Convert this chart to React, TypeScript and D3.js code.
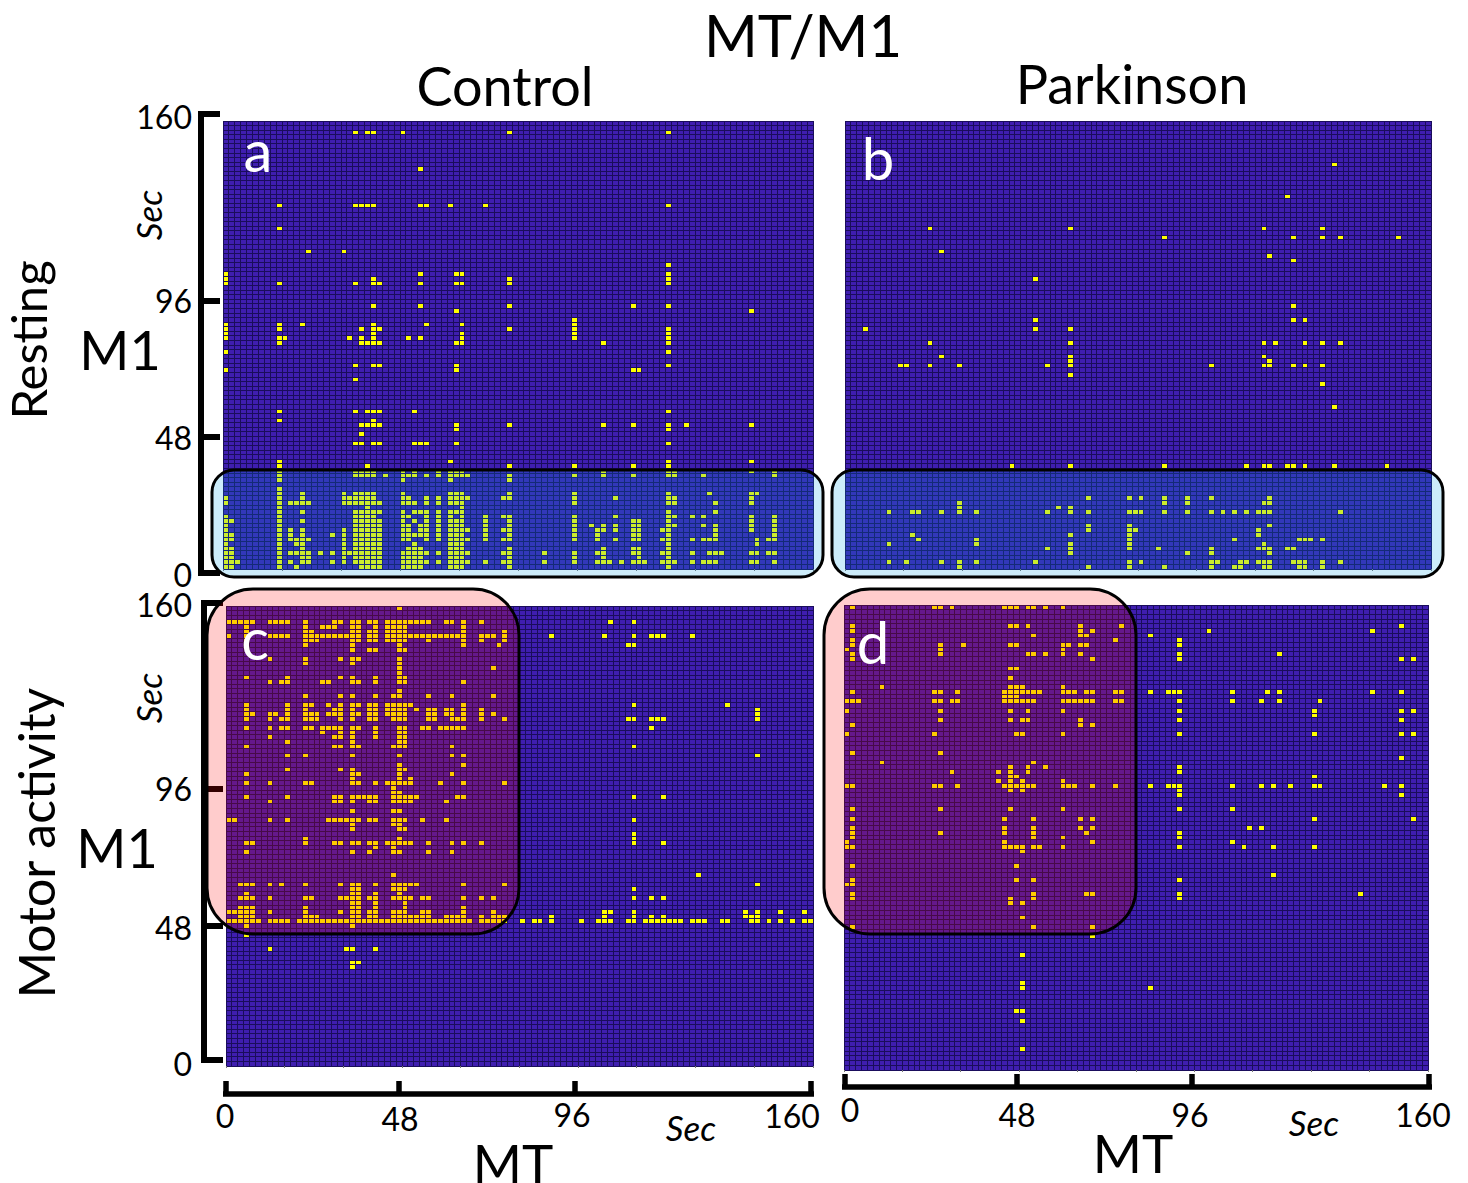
import * as d3 from 'd3';

// Each entry: [time bin from the top, [active time bins from the left]]
type CellRow = [number, number[]];

const tickValues = [0, 48, 96, 160];

const controlResting: CellRow[] = [
    [2, [22, 24, 25, 30, 48, 75]],
    [10, [33]],
    [18, [9, 22, 23, 24, 25, 33, 34, 38, 44, 75]],
    [23, [9]],
    [28, [14, 20]],
    [31, [75]],
    [33, [0, 33, 39, 40, 75]],
    [34, [0, 25, 48, 75]],
    [35, [0, 9, 22, 25, 26, 33, 39, 40, 48, 75]],
    [40, [25, 33, 48, 69, 75]],
    [41, [39, 89]],
    [43, [59]],
    [44, [0, 9, 13, 25, 34, 40, 59]],
    [45, [0, 9, 23, 25, 26, 48, 59, 75]],
    [46, [0, 25, 40, 59, 75]],
    [47, [0, 9, 10, 21, 23, 25, 31, 33, 40, 59, 75]],
    [48, [9, 23, 24, 25, 26, 39, 40, 64, 75]],
    [50, [0, 75]],
    [53, [22, 25, 26, 39, 75]],
    [54, [0, 39, 69, 70]],
    [56, [22]],
    [63, [9, 22, 24, 25, 26, 32, 75]],
    [65, [9, 25]],
    [66, [23, 24, 25, 26, 39, 48, 64, 69, 75, 78, 89]],
    [67, [39, 75]],
    [68, [23]],
    [70, [22, 23, 25, 26, 32, 33, 34, 39, 75]],
    [74, [9, 38, 75, 89]],
    [75, [9, 24, 48, 59, 69, 75]],
    [76, [9, 22, 23, 24, 25, 30, 32, 36, 38, 39, 40, 64, 75, 76, 89, 93]],
    [77, [9, 22, 23, 24, 25, 27, 30, 31, 32, 34, 36, 38, 39, 40, 41, 48, 59, 64, 69, 75, 76, 81, 93]],
    [78, [9, 30, 38, 48]],
    [80, [9]],
    [81, [9, 13, 20, 22, 23, 24, 25, 30, 38, 39, 40, 48, 59, 75, 82, 89, 90]],
    [82, [0, 9, 13, 20, 21, 22, 23, 24, 25, 30, 31, 34, 36, 38, 39, 40, 41, 47, 48, 59, 66, 75, 76, 89]],
    [83, [0, 9, 11, 12, 13, 14, 20, 21, 22, 23, 24, 25, 26, 30, 31, 32, 34, 36, 38, 39, 40, 59, 75, 76, 83, 89]],
    [84, [9, 24, 40]],
    [85, [9, 13, 22, 23, 24, 25, 26, 30, 32, 33, 34, 36, 38, 39, 40, 75, 83]],
    [86, [0, 9, 22, 23, 24, 25, 30, 31, 34, 36, 38, 40, 44, 47, 48, 59, 66, 75, 76, 79, 81, 89, 93]],
    [87, [0, 1, 9, 13, 22, 23, 24, 25, 26, 30, 32, 34, 36, 38, 39, 40, 44, 48, 59, 69, 70, 75, 89, 93]],
    [88, [0, 9, 22, 23, 24, 25, 26, 30, 31, 33, 34, 36, 38, 39, 40, 44, 48, 59, 62, 64, 66, 69, 70, 75, 76, 81, 83, 89, 93]],
    [89, [0, 9, 11, 13, 20, 22, 23, 24, 25, 26, 30, 31, 33, 34, 36, 38, 39, 40, 41, 44, 47, 48, 59, 63, 64, 66, 69, 70, 74, 75, 83, 89, 93]],
    [90, [0, 1, 9, 11, 13, 18, 20, 22, 23, 24, 25, 26, 30, 31, 32, 33, 34, 36, 38, 39, 40, 44, 48, 59, 63, 69, 70, 75, 83, 93]],
    [91, [0, 1, 9, 11, 12, 13, 14, 20, 22, 23, 24, 25, 26, 30, 31, 34, 36, 38, 39, 40, 41, 44, 47, 48, 59, 63, 66, 69, 70, 74, 75, 79, 81, 82, 83, 90, 92, 93]],
    [92, [0, 9, 12, 13, 20, 22, 23, 24, 25, 26, 32, 38, 39, 40, 75, 90]],
    [93, [0, 1, 9, 13, 20, 22, 23, 24, 25, 26, 31, 32, 33, 38, 39, 40, 48, 64, 69, 70, 75]],
    [94, [0, 1, 9, 11, 12, 13, 14, 16, 18, 20, 21, 22, 23, 24, 25, 26, 30, 31, 32, 33, 34, 36, 38, 39, 40, 41, 47, 48, 54, 59, 63, 64, 69, 70, 74, 75, 79, 82, 83, 84, 89, 90, 92, 93]],
    [95, [0, 1, 9, 13, 14, 20, 22, 23, 24, 25, 26, 30, 31, 32, 33, 38, 39, 40, 48, 59, 64, 70, 75]],
    [96, [0, 1, 2, 9, 11, 13, 14, 18, 20, 22, 23, 24, 25, 26, 30, 31, 32, 33, 34, 36, 38, 39, 40, 41, 44, 47, 48, 54, 59, 63, 64, 65, 67, 69, 70, 71, 74, 75, 76, 79, 81, 82, 83, 89, 90, 93]],
    [97, [0, 1, 9, 12, 23, 24, 25, 26, 30, 31, 32, 33, 38, 39, 40, 48, 75]],
];

const parkinsonResting: CellRow[] = [
    [9, [83]],
    [16, [75]],
    [23, [14, 38, 71, 81]],
    [25, [54, 76, 81, 84, 94]],
    [28, [16]],
    [29, [72]],
    [30, [76]],
    [34, [32]],
    [40, [76]],
    [43, [32, 76, 78]],
    [45, [3, 32, 38]],
    [48, [14, 38, 71, 73, 78, 81, 84]],
    [51, [16, 38, 71]],
    [52, [38, 72]],
    [53, [9, 10, 14, 19, 34, 38, 62, 71, 72, 76, 78, 81]],
    [55, [38]],
    [57, [81]],
    [62, [83]],
    [75, [28, 38, 54, 68, 71, 72, 75, 76, 78, 83, 92]],
    [82, [41, 48, 50, 54, 58, 62, 72]],
    [83, [19, 54, 58, 71, 72]],
    [84, [19, 36, 38]],
    [85, [7, 11, 12, 16, 19, 22, 34, 38, 41, 48, 49, 50, 54, 58, 62, 64, 66, 68, 70, 71, 72, 84]],
    [88, [41, 48, 72]],
    [89, [41, 48, 49, 70]],
    [90, [11, 38, 48, 70]],
    [91, [12, 22, 48, 66, 77, 78, 79, 81]],
    [92, [7, 22, 38, 48, 71]],
    [93, [34, 38, 48, 53, 62, 70, 71, 72, 75, 76]],
    [94, [38, 58, 62, 72]],
    [96, [7, 10, 16, 19, 22, 32, 48, 50, 62, 63, 67, 68, 70, 71, 72, 76, 77, 78, 81, 84]],
    [97, [19, 41, 48, 54, 62, 66, 67, 71, 72, 77, 78, 81]],
];

const controlMotor: CellRow[] = [
    [0, [29]],
    [3, [0, 1, 2, 3, 4, 7, 8, 9, 10, 13, 18, 19, 21, 22, 24, 25, 27, 28, 29, 30, 31, 32, 33, 34, 37, 38, 40, 43, 65, 69]],
    [4, [3, 13, 16, 17, 18, 21, 22, 25, 27, 28, 29, 30, 40]],
    [5, [3, 13, 14, 21, 22, 24, 25, 27, 28, 29, 30, 40, 47]],
    [6, [0, 3, 7, 8, 9, 10, 13, 14, 15, 16, 17, 18, 19, 20, 21, 22, 24, 25, 27, 28, 29, 30, 31, 32, 33, 34, 35, 36, 37, 38, 39, 40, 43, 44, 45, 47, 55, 64, 69, 72, 73, 74, 79]],
    [7, [3, 13, 14, 15, 21, 22, 24, 25, 27, 28, 29, 30, 34, 40, 43, 47]],
    [8, [13, 21, 29, 40, 46, 68, 69]],
    [9, [21, 24, 25, 29, 30]],
    [11, [7, 13, 19, 21, 22, 29]],
    [12, [13, 21, 29]],
    [13, [29, 45]],
    [14, [29]],
    [15, [3, 10, 19, 21, 25, 29, 30]],
    [16, [7, 9, 10, 16, 17, 21, 22, 25, 29, 30, 40]],
    [18, [29]],
    [19, [13, 19, 21, 25, 28, 29, 34, 38, 45]],
    [21, [3, 10, 13, 14, 17, 19, 21, 22, 24, 25, 27, 28, 29, 30, 31, 40, 69, 85]],
    [22, [3, 10, 13, 18, 19, 21, 24, 25, 27, 28, 29, 30, 32, 34, 35, 37, 38, 40, 43, 90]],
    [23, [3, 4, 7, 8, 10, 13, 14, 15, 17, 18, 19, 21, 22, 24, 25, 27, 28, 29, 30, 34, 35, 37, 38, 40, 43, 45, 90]],
    [24, [3, 7, 9, 10, 13, 14, 15, 19, 21, 24, 25, 28, 29, 30, 34, 35, 38, 39, 40, 43, 47, 68, 69, 72, 73, 74, 90]],
    [26, [3, 7, 9, 10, 13, 14, 16, 17, 18, 19, 21, 22, 25, 29, 30, 33, 34, 36, 37, 38, 39, 40, 72]],
    [27, [16, 19, 21, 25, 29, 30]],
    [28, [7, 18, 19, 21, 25, 29, 30]],
    [29, [10, 21, 29, 30]],
    [30, [3, 18, 19, 21, 22, 28, 29, 30, 38, 69]],
    [32, [10, 13, 21, 29, 38, 40, 90]],
    [34, [29, 40]],
    [35, [10, 19, 21, 29, 30]],
    [36, [3, 21, 22, 29, 38]],
    [37, [21, 29, 31]],
    [38, [3, 7, 13, 14, 21, 22, 25, 27, 28, 29, 30, 31, 36, 40, 47]],
    [39, [28]],
    [40, [28, 29]],
    [41, [3, 10, 18, 19, 21, 22, 23, 24, 25, 28, 29, 30, 31, 32, 39, 40, 69, 74]],
    [42, [7, 18, 19, 21, 24, 25, 28, 29, 30, 31, 37]],
    [44, [21, 28, 29]],
    [46, [0, 1, 7, 10, 17, 18, 19, 20, 21, 22, 24, 25, 28, 29, 30, 33, 37, 69]],
    [47, [21, 28, 29]],
    [48, [21, 29, 30]],
    [49, [69]],
    [50, [13, 29, 69]],
    [51, [3, 4, 13, 18, 19, 21, 22, 24, 25, 27, 28, 29, 30, 31, 34, 38, 40, 43, 69, 74]],
    [52, [25, 28]],
    [53, [3, 21, 24, 28, 29, 34, 38]],
    [58, [28, 80]],
    [60, [2, 3, 4, 7, 9, 13, 19, 21, 22, 25, 28, 29, 30, 31, 32, 40, 47, 90]],
    [61, [21, 22, 28, 29, 30, 69]],
    [62, [3, 21, 22, 25, 29]],
    [63, [2, 3, 4, 7, 13, 14, 19, 20, 21, 22, 24, 25, 28, 29, 30, 31, 33, 34, 40, 43, 45, 69, 72, 74]],
    [64, [21, 22, 25, 30]],
    [65, [2, 3, 4, 13, 21, 22, 25, 30, 40]],
    [66, [0, 1, 2, 3, 4, 7, 13, 19, 21, 22, 24, 25, 28, 29, 30, 33, 34, 40, 45, 64, 65, 69, 88, 90, 94, 98]],
    [67, [2, 3, 4, 13, 14, 15, 21, 22, 24, 25, 28, 29, 30, 31, 32, 33, 34, 37, 38, 39, 40, 43, 45, 46, 47, 55, 64, 69, 72, 74, 88, 89, 90]],
    [68, [0, 1, 2, 3, 4, 5, 7, 8, 9, 10, 12, 13, 14, 15, 16, 17, 18, 19, 20, 21, 22, 23, 24, 25, 26, 27, 28, 29, 30, 31, 32, 33, 34, 35, 36, 37, 38, 39, 40, 41, 43, 44, 45, 46, 47, 50, 52, 53, 55, 60, 63, 64, 65, 68, 69, 71, 72, 73, 74, 75, 76, 77, 79, 80, 81, 84, 85, 89, 90, 92, 94, 96, 98, 99]],
    [69, [3, 21]],
    [71, [3]],
    [74, [7, 20, 21, 25]],
    [77, [21, 22]],
    [78, [21]],
];

const parkinsonMotor: CellRow[] = [
    [0, [1, 15, 16, 18, 27, 28, 29, 31, 32, 34, 37]],
    [4, [1, 28, 29, 31, 40, 47, 95]],
    [5, [1, 40, 42, 62, 90]],
    [6, [32, 40, 41, 52]],
    [7, [1, 46, 57]],
    [8, [1, 16, 20, 28, 29, 37, 38, 40, 41, 57]],
    [9, [0, 16, 37]],
    [10, [1, 16, 31, 32, 34, 37, 40, 57, 74]],
    [11, [1, 42, 57, 95, 97]],
    [13, [28, 29]],
    [15, [28]],
    [17, [6, 28, 29, 30, 37]],
    [18, [1, 15, 16, 19, 27, 28, 29, 30, 31, 32, 33, 37, 38, 39, 41, 42, 46, 47, 52, 55, 56, 57, 66, 72, 74, 90, 95]],
    [19, [27, 28, 29]],
    [20, [0, 1, 2, 15, 16, 18, 19, 27, 28, 29, 30, 31, 32, 37, 38, 39, 40, 41, 42, 46, 47, 57, 66, 71, 74, 81]],
    [22, [0, 16, 28, 31, 37, 57, 80, 95, 97]],
    [23, [80]],
    [24, [16, 28, 30, 31, 40, 57, 95]],
    [25, [1, 40, 42]],
    [27, [0, 15, 29, 30, 37, 57, 80, 95, 97]],
    [31, [1, 16]],
    [32, [95]],
    [33, [6, 32]],
    [34, [28, 31, 34, 57]],
    [35, [18, 26, 28, 31, 57]],
    [36, [28, 29, 80]],
    [37, [26, 28, 30, 37]],
    [38, [0, 1, 15, 16, 19, 27, 28, 29, 30, 31, 32, 37, 38, 39, 42, 46, 52, 55, 56, 57, 66, 71, 73, 76, 80, 81, 92, 95]],
    [39, [28, 30, 57]],
    [40, [57, 95]],
    [43, [1, 16, 28, 37, 57, 66]],
    [45, [1, 27, 32, 40, 42, 80, 97]],
    [47, [1, 27, 32, 40, 42, 69, 71]],
    [48, [1, 16, 27, 32, 41, 57]],
    [49, [1, 32, 37, 57]],
    [50, [0, 27, 42, 66]],
    [51, [0, 1, 27, 28, 29, 30, 32, 33, 37, 57, 68, 73, 80]],
    [52, [30]],
    [55, [1, 29]],
    [57, [73]],
    [58, [1, 29, 32, 57]],
    [59, [0, 1]],
    [61, [1, 32, 41, 42, 57, 88]],
    [62, [1, 28, 32, 57]],
    [63, [28, 30]],
    [66, [30]],
    [68, [1, 32, 42]],
    [70, [42]],
    [74, [30]],
    [80, [30]],
    [81, [30, 52]],
    [86, [29, 30]],
    [88, [30]],
    [94, [30]],
];

const FONT = 'Lato, "Open Sans", sans-serif';
const BG = '#3f1eb0';
const GRID = '#1a0d5c';

const panelA = { x: [223, 813], y: [121, 569], nCols: 100, nRows: 98, cells: controlResting };
const panelB = { x: [845, 1431], y: [121, 569], nCols: 100, nRows: 98, cells: parkinsonResting };
const panelC = { x: [226, 813], y: [606, 1066], nCols: 100, nRows: 100, cells: controlMotor };
const panelD = { x: [844, 1428], y: [605, 1070], nCols: 100, nRows: 99, cells: parkinsonMotor };

function Heatmap({ x, y, nCols, nRows, cells }: typeof panelA) {
    const xBand = d3.scaleBand<number>().domain(d3.range(nCols)).range(x as [number, number]);
    const yBand = d3.scaleBand<number>().domain(d3.range(nRows)).range(y as [number, number]);
    const w = xBand.bandwidth();
    const h = yBand.bandwidth();

    const gridPath = d3.path();
    d3.range(nCols + 1).forEach(c => {
        const px = x[0] + c * w;
        gridPath.moveTo(px, y[0]);
        gridPath.lineTo(px, y[1]);
    });
    d3.range(nRows + 1).forEach(r => {
        const py = y[0] + r * h;
        gridPath.moveTo(x[0], py);
        gridPath.lineTo(x[1], py);
    });

    return (
        <g shapeRendering="crispEdges">
            <rect x={x[0]} y={y[0]} width={x[1] - x[0]} height={y[1] - y[0]} fill={BG} />
            {cells.flatMap(([r, cols]) => cols.map(c => (
                <rect key={`${r}-${c}`} x={xBand(c)!} y={yBand(r)!} width={w} height={h} fill="#ffff00" />
            )))}
            {/* grid goes over the active cells so neighbours stay separated */}
            <path d={gridPath.toString()} stroke={GRID} strokeWidth={1} fill="none" />
            {d3.range(0, nCols + 1, 10).map(c => {
                const px = x[0] + c * w;
                return <line key={c} x1={px} x2={px} y1={y[1]} y2={y[1] + 1.5} stroke="#777" strokeWidth={1} />;
            })}
        </g>
    );
}

function LeftAxis({ x, range, labelDy }: { x: number; range: number[]; labelDy: number[] }) {
    const scale = d3.scaleLinear().domain(tickValues).range(range);
    return (
        <g>
            <line x1={x} x2={x} y1={scale(160) - 3} y2={scale(0) + 3} stroke="black" strokeWidth={6} />
            {tickValues.map((t, i) => (
                <g key={t}>
                    <line x1={x} x2={x + 19} y1={scale(t)} y2={scale(t)} stroke="black" strokeWidth={6} />
                    <text x={192} y={scale(t) + labelDy[i]} textAnchor="end" fontSize={32} fontFamily={FONT}>{t}</text>
                </g>
            ))}
        </g>
    );
}

function BottomAxis({ y, range, labelX, labelY }: { y: number; range: number[]; labelX: number[]; labelY: number[] }) {
    const scale = d3.scaleLinear().domain(tickValues).range(range);
    return (
        <g>
            <line x1={scale(0) - 3} x2={scale(160) + 3} y1={y} y2={y} stroke="black" strokeWidth={5.5} />
            {tickValues.map((t, i) => (
                <g key={t}>
                    <line x1={scale(t)} x2={scale(t)} y1={y} y2={y - 13} stroke="black" strokeWidth={5.5} />
                    <text x={labelX[i]} y={labelY[i]} textAnchor="middle" fontSize={32} fontFamily={FONT}>{t}</text>
                </g>
            ))}
        </g>
    );
}

function Label({ x, y, size, text, rotate, fill, italic }: { x: number; y: number; size: number; text: string; rotate?: boolean; fill?: string; italic?: boolean }) {
    return (
        <text
            x={x}
            y={y}
            transform={rotate ? `rotate(-90 ${x} ${y})` : undefined}
            textAnchor="middle"
            fontSize={size}
            fontFamily={FONT}
            fontStyle={italic ? 'italic' : 'normal'}
            fill={fill || 'black'}
        >
            {text}
        </text>
    );
}

export default function App() {
    const bandBoxes = [[212, 470, 611, 107], [832, 470, 611, 107]];
    const motorBoxes = [[207, 589, 312, 345], [824, 589, 312, 345]];

    return (
        <svg width={1468} height={1183} style={{ position: 'absolute', left: 0, top: 0, background: 'white' }}>
            <Heatmap {...panelA} />
            <Heatmap {...panelB} />
            <Heatmap {...panelC} />
            <Heatmap {...panelD} />

            <LeftAxis x={201} range={[573, 437, 301, 114]} labelDy={[14, 13, 12, 15]} />
            <LeftAxis x={204} range={[1060, 926, 789, 603]} labelDy={[16, 14, 12, 14]} />
            <BottomAxis y={1094} range={[226, 399, 575, 811]} labelX={[225, 400, 572, 792]} labelY={[1128, 1131, 1127, 1128]} />
            <BottomAxis y={1087} range={[845, 1017, 1192, 1429]} labelX={[850, 1017, 1190, 1423]} labelY={[1122, 1127, 1127, 1127]} />

            {bandBoxes.map(([x, y, w, h]) => (
                <rect key={x} x={x} y={y} width={w} height={h} rx={22} fill="rgb(0,160,230)" fillOpacity={0.2} stroke="black" strokeWidth={3} />
            ))}
            {motorBoxes.map(([x, y, w, h]) => (
                <rect key={x} x={x} y={y} width={w} height={h} rx={46} fill="rgb(255,0,0)" fillOpacity={0.2} stroke="black" strokeWidth={3} />
            ))}

            <Label x={803} y={57} size={58} text="MT/M1" />
            <Label x={505} y={106} size={54} text="Control" />
            <Label x={1132} y={104} size={54} text="Parkinson" />

            <Label x={258} y={172} size={58} text="a" fill="white" />
            <Label x={878} y={180} size={58} text="b" fill="white" />
            <Label x={255} y={660} size={58} text="c" fill="white" />
            <Label x={873} y={664} size={58} text="d" fill="white" />

            <Label x={47} y={340} size={49} text="Resting" rotate />
            <Label x={55} y={843} size={50} text="Motor activity" rotate />
            <Label x={120} y={370} size={54} text="M1" />
            <Label x={117} y={868} size={54} text="M1" />

            <Label x={162} y={215} size={35} text="Sec" rotate italic />
            <Label x={162} y={698} size={35} text="Sec" rotate italic />
            <Label x={691} y={1141} size={35} text="Sec" italic />
            <Label x={1314} y={1136} size={35} text="Sec" italic />

            <Label x={513} y={1183} size={53} text="MT" />
            <Label x={1133} y={1173} size={53} text="MT" />
        </svg>
    );
}
